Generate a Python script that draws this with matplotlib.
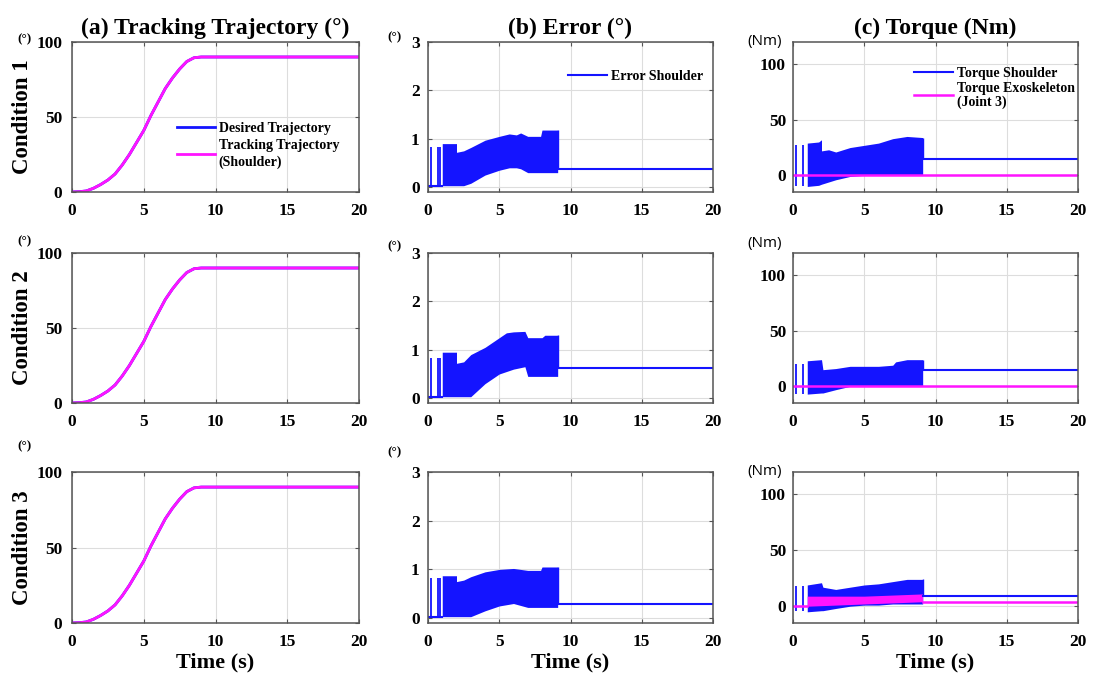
import matplotlib
matplotlib.use("Agg")
import matplotlib.pyplot as plt

# ============================================================
#   DADOS
# ============================================================

# trajetória desejada / seguida (igual nas três condições)
traj_t = [0, 0.5, 1, 1.5, 2, 2.5, 3, 3.5, 4, 4.5, 5, 5.5, 6, 6.5, 7, 7.5, 8, 8.5, 9, 20]
traj_deg = [0, 0.2, 0.7, 2.5, 5, 8, 12, 18, 25, 33, 41, 51, 60, 69, 76, 82, 87, 89.5, 90, 90]

# erro do ombro: picos iniciais, envelope da oscilação, valor final
err_spike_t = [0.2, 0.7, 0.85]
err_spike_top = [0.82, 0.82, 0.82]

err1_t = [1.0, 2.0, 2.0, 2.5, 3.0, 4.0, 5.0, 5.7, 6.2, 6.5, 7.0, 7.9, 8.0, 9.1]
err1_hi = [0.90, 0.90, 0.72, 0.75, 0.82, 0.97, 1.05, 1.10, 1.08, 1.12, 1.05, 1.05, 1.18, 1.18]
err1_lo = [0.03, 0.03, 0.03, 0.03, 0.08, 0.25, 0.35, 0.40, 0.40, 0.38, 0.30, 0.30, 0.30, 0.30]
err1_end = 0.37

err2_t = [1.0, 2.0, 2.0, 2.5, 3.0, 4.0, 5.0, 5.5, 6.0, 6.8, 7.0, 8.0, 8.2, 9.1]
err2_hi = [0.95, 0.95, 0.72, 0.75, 0.90, 1.05, 1.25, 1.35, 1.37, 1.38, 1.25, 1.25, 1.30, 1.30]
err2_lo = [0.03, 0.03, 0.03, 0.03, 0.03, 0.30, 0.50, 0.55, 0.60, 0.65, 0.45, 0.45, 0.45, 0.45]
err2_end = 0.62

err3_t = [1.0, 2.0, 2.0, 2.5, 3.0, 4.0, 5.0, 6.0, 7.0, 7.9, 8.0, 9.1]
err3_hi = [0.87, 0.87, 0.75, 0.78, 0.85, 0.95, 1.00, 1.02, 0.98, 0.98, 1.05, 1.05]
err3_lo = [0.03, 0.03, 0.03, 0.03, 0.03, 0.15, 0.25, 0.30, 0.22, 0.22, 0.22, 0.22]
err3_end = 0.30

# torque do ombro (azul) e do exoesqueleto (magenta)
tq_spike_t = [0.2, 0.7]

tq1_spike = (-10, 27)
tq1_t = [1.0, 1.8, 2.0, 2.0, 2.5, 3.0, 4.0, 5.0, 6.0, 7.0, 8.0, 9.1]
tq1_hi = [29, 30, 32, 22, 23, 21, 25, 27, 29, 33, 35, 34]
tq1_lo = [-10, -9, -8, -8, -6, -4, -1, 0, 0, 0, 0, 0]
tq1_end = 15
exo1_t = [0, 20]
exo1_val = [0, 0]

tq2_spike = (-7, 20)
tq2_t = [1.0, 2.0, 2.1, 3.0, 4.0, 5.0, 6.0, 7.0, 7.2, 8.0, 9.1]
tq2_hi = [23, 24, 15, 16, 18, 18, 18, 19, 22, 24, 24]
tq2_lo = [-7, -6, -6, -3, 0, 0, 0, 0, 0, 0, 0]
tq2_end = 15
exo2_t = [0, 20]
exo2_val = [0, 0]

tq3_spike = (-4, 18)
tq3_t = [1.0, 2.0, 2.1, 3.0, 4.0, 5.0, 6.0, 7.0, 8.0, 9.1]
tq3_hi = [19, 21, 17, 15, 17, 19, 20, 22, 24, 24]
tq3_lo = [-5, -4, -4, -2, 0, 1, 1, 2, 2, 2]
tq3_end = 9
exo3_t = [1.0, 5.0, 9.1]
exo3_hi = [9, 9, 11]
exo3_lo = [0, 2, 4]
exo3_end = 4

time_ticks = [0, 5, 10, 15, 20]

# ============================================================
#   ESTILO / LAYOUT
# ============================================================

AZUL = "#1414ff"
MAGENTA = "#ff14ff"
SERIF = "Liberation Serif"

W, H = 1097, 681
fig = plt.figure(figsize=(W / 100, H / 100), dpi=100)

col_x = [(72, 359), (428, 713), (793, 1078)]
row_y = [(42, 192), (253, 403), (472, 623)]
ypad = [7, 6, 5]

# deslocamento (px) do rótulo de unidade acima do topo de cada eixo
unid_dy = {0: [3, 12, 26], 1: [5, 7, 20], 2: [0, 10, 1]}
unid_dx = [-47, -34, -28]


def criar_eixo(c, r):
    x0, x1 = col_x[c]
    y0, y1 = row_y[r]
    ax = fig.add_axes([x0 / W, 1 - y1 / H, (x1 - x0) / W, (y1 - y0) / H])
    ax.set_xlim(0, 20)
    ax.set_xticks(time_ticks)
    ax.grid(True, color="#dddddd", linewidth=0.8)
    ax.set_axisbelow(True)
    ax.tick_params(direction="in", length=3, top=True, right=True,
                   color="#555555")
    ax.tick_params(axis="x", pad=8)
    ax.tick_params(axis="y", pad=ypad[c])
    for s in ax.spines.values():
        s.set_color("#555555")
        s.set_linewidth(1.1)
    return ax


def acertar_ticks(ax):
    for lab in ax.get_xticklabels() + ax.get_yticklabels():
        lab.set_fontfamily(SERIF)
        lab.set_fontweight("bold")
        lab.set_fontsize(12.5)


def unidade(ax, c, r, texto):
    x0, x1 = col_x[c]
    y0, y1 = row_y[r]
    fx = (x0 + unid_dx[c]) / W
    fy = 1 - (y0 - unid_dy[c][r]) / H
    if c == 2:
        fig.text(fx, fy, texto, fontsize=11, family="Open Sans",
                 ha="center", va="center")
    else:
        fig.text(fx, fy, texto, fontsize=9.5, family=SERIF,
                 fontweight="bold", ha="center", va="center")


def fonte_legenda():
    return {"family": SERIF, "weight": "bold", "size": 10}


def titulo(ax, texto):
    ax.set_title(texto, family=SERIF, fontweight="bold", fontsize=17, pad=6)


def rotulo_tempo(ax):
    ax.set_xlabel("Time (s)", family=SERIF, fontweight="bold", fontsize=16,
                  labelpad=2)


# ============================================================
#   COLUNA (a) - TRAJETÓRIA
# ============================================================

for r in range(3):
    ax = criar_eixo(0, r)
    ax.plot(traj_t, traj_deg, color=AZUL, linewidth=2, label="Desired Trajectory")
    ax.plot(traj_t, traj_deg, color=MAGENTA, linewidth=2,
            label="Tracking Trajectory\n(Shoulder)")
    ax.set_ylim(0, 100)
    ax.set_yticks([0, 50, 100])
    ax.set_ylabel(f"Condition {r + 1}", family=SERIF, fontweight="bold",
                  fontsize=16.5, labelpad=2)
    unidade(ax, 0, r, "(°)")
    if r == 0:
        titulo(ax, "(a) Tracking Trajectory (°)")
        leg = ax.legend(loc="center right", bbox_to_anchor=(0.975, 0.31),
                        frameon=False, prop=fonte_legenda(), handlelength=2.7,
                        labelspacing=0.3, handletextpad=0.3)
        for txt in leg.get_texts():
            txt.set_linespacing(1.35)
    if r == 2:
        rotulo_tempo(ax)
    acertar_ticks(ax)

# ============================================================
#   COLUNA (b) - ERRO
# ============================================================

erros = [
    (err1_t, err1_hi, err1_lo, err1_end),
    (err2_t, err2_hi, err2_lo, err2_end),
    (err3_t, err3_hi, err3_lo, err3_end),
]

for r, (t, hi, lo, fim) in enumerate(erros):
    ax = criar_eixo(1, r)
    ax.vlines(err_spike_t, 0.03, err_spike_top, color=AZUL, linewidth=1.3)
    ax.plot([0, t[0]], [0.03, 0.03], color=AZUL, linewidth=1.5)
    ax.fill_between(t, lo, hi, color=AZUL, linewidth=0)
    ax.plot([t[-1], 20], [fim, fim], color=AZUL, linewidth=1.5,
            label="Error Shoulder")
    ax.vlines(t[-1], fim, hi[-1], color=AZUL, linewidth=1)
    ax.set_ylim(-0.1, 3)
    ax.set_yticks([0, 1, 2, 3])
    unidade(ax, 1, r, "(°)")
    if r == 0:
        titulo(ax, "(b) Error (°)")
        ax.legend(loc="upper right", bbox_to_anchor=(1.01, 0.9), frameon=False,
                  prop=fonte_legenda(), handlelength=2.8, handletextpad=0.3)
    if r == 2:
        rotulo_tempo(ax)
    acertar_ticks(ax)

# ============================================================
#   COLUNA (c) - TORQUE
# ============================================================

torques = [
    (tq1_spike, tq1_t, tq1_hi, tq1_lo, tq1_end),
    (tq2_spike, tq2_t, tq2_hi, tq2_lo, tq2_end),
    (tq3_spike, tq3_t, tq3_hi, tq3_lo, tq3_end),
]

for r, (sp, t, hi, lo, fim) in enumerate(torques):
    ax = criar_eixo(2, r)
    ax.vlines(tq_spike_t, sp[0], sp[1], color=AZUL, linewidth=1.3)
    ax.fill_between(t, lo, hi, color=AZUL, linewidth=0)
    ax.plot([t[-1], 20], [fim, fim], color=AZUL, linewidth=1.5,
            label="Torque Shoulder")
    ax.vlines(t[-1], fim, hi[-1], color=AZUL, linewidth=1)
    if r == 0:
        ax.plot(exo1_t, exo1_val, color=MAGENTA, linewidth=1.8,
                label="Torque Exoskeleton\n(Joint 3)")
    elif r == 1:
        ax.plot(exo2_t, exo2_val, color=MAGENTA, linewidth=1.8)
    else:
        ax.plot([0, exo3_t[0]], [0, 0], color=MAGENTA, linewidth=1.8)
        ax.fill_between(exo3_t, exo3_lo, exo3_hi, color=MAGENTA, linewidth=0)
        ax.plot([exo3_t[-1], 20], [exo3_end, exo3_end], color=MAGENTA,
                linewidth=1.8)
    ax.set_ylim(-15, 120)
    ax.set_yticks([0, 50, 100])
    unidade(ax, 2, r, "(Nm)")
    if r == 0:
        titulo(ax, "(c) Torque (Nm)")
        leg = ax.legend(loc="upper right", bbox_to_anchor=(1.035, 0.92),
                        frameon=False, prop=fonte_legenda(), handlelength=2.8,
                        labelspacing=0.15, handletextpad=0.3)
        for txt in leg.get_texts():
            txt.set_linespacing(1.1)
    if r == 2:
        rotulo_tempo(ax)
    acertar_ticks(ax)

fig.savefig("out.png", dpi=100)
